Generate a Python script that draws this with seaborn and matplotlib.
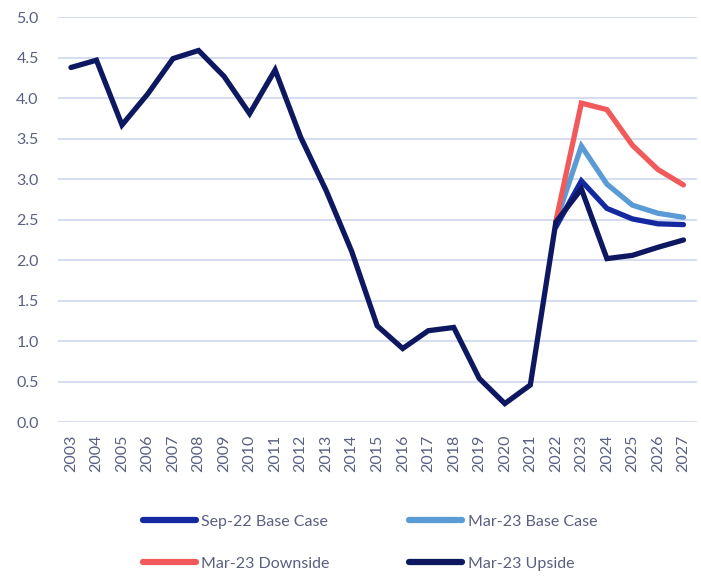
import pandas as pd
import matplotlib.pyplot as plt
import seaborn as sns
import numpy as np

sns.set_theme(style='white')
plt.rcParams['font.family'] = ['Lato', 'DejaVu Sans']

# data
years = list(range(2003, 2028))
history = [4.38, 4.47, 3.67, 4.05, 4.49, 4.59, 4.27, 3.81, 4.35, 3.52,
           2.86, 2.11, 1.19, 0.91, 1.13, 1.17, 0.54, 0.23, 0.46]
fc_years = [2022, 2023, 2024, 2025, 2026, 2027]
sep22_base = [2.41, 2.98, 2.64, 2.51, 2.45, 2.44]
mar23_base = [2.47, 3.41, 2.94, 2.68, 2.58, 2.53]
mar23_down = [2.48, 3.94, 3.86, 3.42, 3.12, 2.93]
mar23_up = [2.47, 2.88, 2.02, 2.06, 2.16, 2.25]

labels = ['Sep-22 Base Case', 'Mar-23 Base Case', 'Mar-23 Downside', 'Mar-23 Upside']
colors = ['#1428A0', '#5B9BD5', '#F05A5A', '#0D1860']

rows = []
for lab, vals in zip(labels[:3], [sep22_base, mar23_base, mar23_down]):
    for y, v in zip(fc_years, vals):
        rows.append((y, v, lab))
for y, v in zip(years[:len(history)], history):
    rows.append((y, v, labels[3]))
for y, v in zip(fc_years, mar23_up):
    rows.append((y, v, labels[3]))
df = pd.DataFrame(rows, columns=['year', 'value', 'series'])

fig, ax = plt.subplots(figsize=(7.01, 5.76), dpi=100)
fig.subplots_adjust(left=0.083, right=0.995, top=0.97, bottom=0.267)

sns.lineplot(data=df, x='year', y='value', hue='series', hue_order=labels,
             palette=colors, linewidth=3.8, sort=True, ax=ax, legend=False)
for ln in ax.lines:
    ln.set_solid_capstyle('round')
    ln.set_solid_joinstyle('miter')

ax.set_xlim(2002.5, 2027.55)
ax.set_ylim(0, 5.0)
ax.set_yticks(np.arange(0, 5.01, 0.5))
ax.set_yticklabels([f'{t:.1f}' for t in np.arange(0, 5.01, 0.5)])
ax.set_xticks(years)
ax.set_xticklabels([str(y) for y in years], rotation=90)
ax.tick_params(axis='both', labelsize=11.5, colors='#5A6080', length=0)
ax.tick_params(axis='y', pad=14)
ax.tick_params(axis='x', pad=9)
ax.grid(axis='y', color='#D3DAF0', linewidth=1.3)
ax.set_axisbelow(True)
for s in ax.spines.values():
    s.set_visible(False)
ax.set_xlabel('')
ax.set_ylabel('')

# legend filled row by row
order = [0, 2, 1, 3]
handles = [plt.Line2D([0], [0], color=colors[i], linewidth=4.5, solid_capstyle='round') for i in order]
leg = fig.legend(handles, [labels[i] for i in order], loc='lower center', bbox_to_anchor=(0.528, -0.016),
                 ncol=2, frameon=False, fontsize=11.5, handlelength=3.3, handletextpad=0.35,
                 columnspacing=5.0, labelspacing=1.75, labelcolor='#5A6080')

plt.savefig('out.png', dpi=100)
